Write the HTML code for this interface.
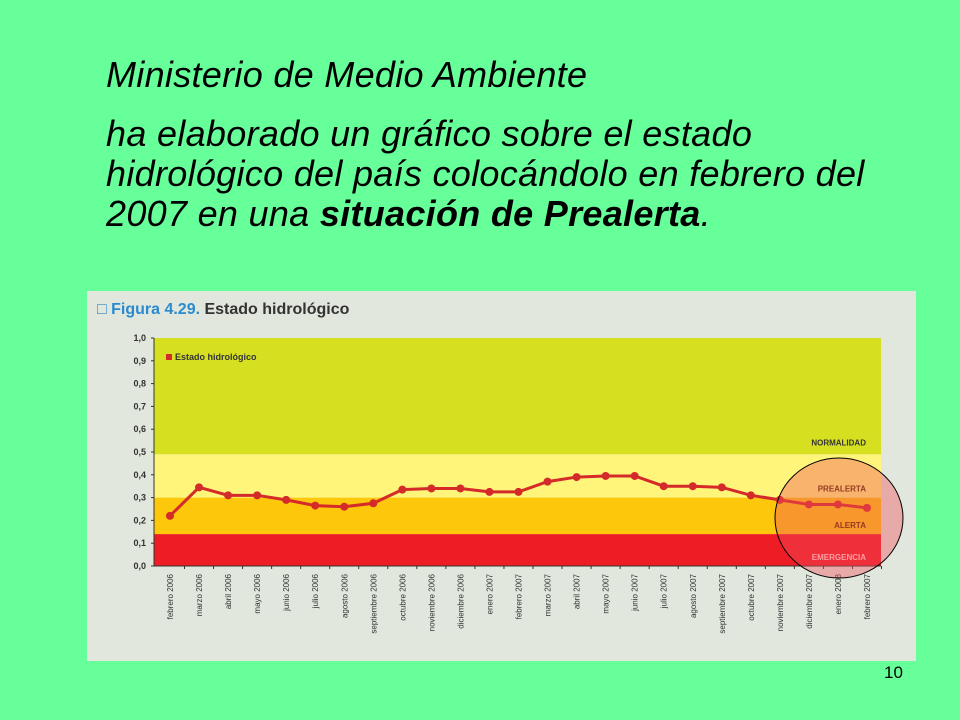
<!DOCTYPE html>
<html><head><meta charset="utf-8"><style>
body{margin:0;width:960px;height:720px;background:#66ff99;overflow:hidden;font-family:"Liberation Sans",sans-serif;position:relative}
.t{position:absolute;left:106px;font-style:italic;font-size:36px;color:#000;white-space:nowrap;letter-spacing:0.3px}
</style></head><body>
<div class="t" style="top:55px;line-height:40px">Ministerio de Medio Ambiente</div>
<div class="t" style="top:114px;line-height:40px">ha elaborado un gráfico sobre el estado<br>hidrológico del país colocándolo en febrero del<br>2007 en una <b>situación de Prealerta</b>.</div>
<div style="position:absolute;left:884px;top:663px;font-size:17px">10</div>
<svg id="c" width="960" height="720" style="position:absolute;left:0;top:0"></svg>
<script>
const categories=["febrero 2006","marzo 2006","abril 2006","mayo 2006","junio 2006","julio 2006","agosto 2006","septiembre 2006","octubre 2006","noviembre 2006","diciembre 2006","enero 2007","febrero 2007","marzo 2007","abril 2007","mayo 2007","junio 2007","julio 2007","agosto 2007","septiembre 2007","octubre 2007","noviembre 2007","diciembre 2007","enero 2008","febrero 2007"];
const values=[0.22,0.345,0.31,0.31,0.29,0.265,0.26,0.275,0.335,0.34,0.34,0.325,0.325,0.37,0.39,0.395,0.395,0.35,0.35,0.345,0.31,0.29,0.27,0.27,0.255];
const yTicks=["0,0","0,1","0,2","0,3","0,4","0,5","0,6","0,7","0,8","0,9","1,0"];
const bandEdges=[0,0.14,0.3,0.49,1.0];
const bandNames=["EMERGENCIA","ALERTA","PREALERTA","NORMALIDAD"];
const svg=document.getElementById('c');const NS="http://www.w3.org/2000/svg";
const X0=154,X1=881,Y0=566,Y1=338;
const y=v=>Y0-(v)*(Y0-Y1);
const x=i=>170+i*(867-170)/(categories.length-1);
function mk(t,a,p){const e=document.createElementNS(NS,t);for(const k in a)e.setAttribute(k,a[k]);(p||svg).appendChild(e);return e;}
let bg=mk('rect',{x:87,y:291,width:829,height:370,fill:'#e1e7dc'});


let tt=mk('text',{x:97,y:314,'font-size':16,'font-weight':'bold',fill:'#333','font-family':'Liberation Sans Narrow, Liberation Sans, sans-serif'});
tt.innerHTML='<tspan fill="#2a8ad0">□ Figura 4.29.</tspan> Estado hidrológico';


const colors=["#ee1c25","#fdc70c","#fef57a","#d6e021"];
const labelColors=["#ffd0d0","#5a2a00","#5a2a00","#333"];
for(let i=0;i<4;i++){
 let r=mk('rect',{x:X0,y:y(bandEdges[i+1]),width:X1-X0,height:y(bandEdges[i])-y(bandEdges[i+1]),fill:colors[i]});
 
 
 let l=mk('text',{x:866,y:y(bandEdges[i])-(i==3?9:6),'font-size':8,'font-weight':'bold','text-anchor':'end',fill:labelColors[i],'font-family':'Liberation Sans Narrow, Liberation Sans, sans-serif'});
 l.textContent=bandNames[i];
 
 
}
mk('line',{x1:X0,y1:Y1,x2:X0,y2:Y0,stroke:'#333','stroke-width':1});
mk('line',{x1:X0,y1:Y0,x2:X1,y2:Y0,stroke:'#333','stroke-width':1});
yTicks.forEach((t,i)=>{const v=i/10;
 mk('line',{x1:X0-3,y1:y(v),x2:X0,y2:y(v),stroke:'#333'});
 let e=mk('text',{x:X0-8,y:y(v)+3,'font-size':9,'font-weight':'bold','text-anchor':'end',fill:'#333'});e.textContent=t;
 
 
});
categories.forEach((c,i)=>{
 mk('line',{x1:x(i)+14.5,y1:Y0,x2:x(i)+14.5,y2:Y0+3,stroke:'#333'});
 let e=mk('text',{transform:`translate(${x(i)+3},${Y0+8}) rotate(-90)`,'font-size':8,'text-anchor':'end',fill:'#333'});e.textContent=c;
 
 
});
let pl=mk('polyline',{points:values.map((v,i)=>x(i)+','+y(v)).join(' '),fill:'none',stroke:'#d42a2a','stroke-width':3});


values.forEach((v,i)=>{let p=mk('circle',{cx:x(i),cy:y(v),r:4,fill:'#d42a2a'});
 
 });
mk('rect',{x:166,y:354,width:6,height:6,fill:'#d42a2a'});
let lg=mk('text',{x:175,y:360,'font-size':9,'font-weight':'bold',fill:'#333','font-family':'Liberation Sans Narrow, Liberation Sans, sans-serif'});lg.textContent='Estado hidrológico';


let ci=mk('ellipse',{cx:839,cy:518,rx:64,ry:60,fill:'rgba(240,80,90,0.4)',stroke:'#000','stroke-width':1});


</script>
</body></html>
